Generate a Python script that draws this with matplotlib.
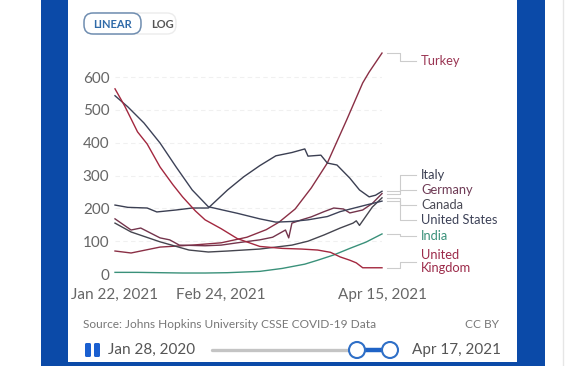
import numpy as np
import pandas as pd
import matplotlib
matplotlib.use("Agg")
import matplotlib.pyplot as plt
from matplotlib.patches import Rectangle, FancyBboxPatch, Circle

plt.rcParams['font.family'] = ['Lato', 'DejaVu Sans']

# days since 2021-01-22, values = daily new cases per million
start = pd.Timestamp("2021-01-22")

uk_days = [0, 3, 7, 10, 14, 18, 21, 25, 28, 33, 38, 45, 52, 58, 63, 67, 70, 73, 75, 77, 83]
uk_vals = [564, 512, 433, 396, 326, 272, 235, 192, 165, 138, 108, 84, 78, 76, 73, 66, 52, 42, 34, 19, 19]

us_days = [0, 4, 9, 14, 19, 24, 29, 33, 38, 45, 50, 55, 60, 66, 70, 74, 78, 83]
us_vals = [543, 509, 460, 399, 326, 256, 205, 196, 185, 168, 158, 160, 165, 175, 190, 200, 210, 222]

italy_days = [0, 4, 10, 13, 19, 24, 29, 35, 40, 45, 50, 55, 59, 60, 64, 66, 69, 73, 76, 79, 81, 83]
italy_vals = [210, 203, 201, 189, 195, 201, 201, 256, 296, 330, 360, 370, 381, 359, 362, 338, 332, 292, 256, 235, 240, 252]

germany_days = [0, 5, 8, 14, 17, 20, 28, 33, 38, 45, 49, 53, 54, 55, 58, 61, 65, 68, 71, 73, 77, 80, 83]
germany_vals = [168, 134, 140, 110, 104, 88, 86, 88, 95, 104, 112, 134, 110, 155, 165, 174, 190, 201, 198, 186, 195, 215, 245]

canada_days = [0, 5, 14, 23, 29, 35, 45, 55, 60, 65, 70, 74, 75, 76, 80, 83]
canada_vals = [155, 128, 98, 73, 67, 70, 76, 88, 100, 119, 140, 155, 162, 148, 204, 232]

turkey_days = [0, 5, 14, 24, 33, 41, 47, 51, 56, 61, 66, 72, 77, 79, 83]
turkey_vals = [70, 64, 82, 88, 95, 112, 135, 158, 198, 262, 338, 469, 582, 615, 673]

india_days = [0, 7, 14, 21, 28, 35, 45, 52, 59, 63, 68, 73, 78, 83]
india_vals = [5, 5, 4, 3, 3, 4, 8, 17, 30, 42, 58, 78, 97, 122]

countries = ["Turkey", "Italy", "Germany", "Canada", "United States", "India", "United\nKingdom"]
series_days = [turkey_days, italy_days, germany_days, canada_days, us_days, india_days, uk_days]
series_vals = [turkey_vals, italy_vals, germany_vals, canada_vals, us_vals, india_vals, uk_vals]
line_colors = ["#8a2f45", "#3b3f52", "#74344c", "#45454f", "#3d4258", "#3a917a", "#a3283f"]
label_colors = ["#9a3553", "#3b3f52", "#6e3a55", "#4a4a55", "#3d4258", "#3a917a", "#9c2b4a"]
# vertical position of each end label (value units)
label_y = [649, 302, 256, 210, 164, 116, 38]

fig = plt.figure(figsize=(5.79, 3.66), dpi=100)
fig.patch.set_facecolor("white")

# page decorations in pixel coordinates
deco = fig.add_axes([0, 0, 1, 1], zorder=0)
deco.set_xlim(0, 579)
deco.set_ylim(366, 0)
deco.axis("off")

blue = "#0b4aa8"
deco.add_patch(Rectangle((41, 0), 27, 366, color=blue, lw=0))
deco.add_patch(Rectangle((517, 0), 28, 366, color=blue, lw=0))
deco.add_patch(Rectangle((41, 362), 504, 4, color=blue, lw=0))
deco.plot([563, 563], [0, 366], color="#e6e6e6", lw=1)

# LINEAR / LOG toggle
deco.add_patch(FancyBboxPatch((90, 13), 86, 21, boxstyle="round,pad=0,rounding_size=9",
                              fc="white", ec="#ececec", lw=1))
deco.add_patch(FancyBboxPatch((84, 13), 57, 21, boxstyle="round,pad=0,rounding_size=9",
                              fc="white", ec="#6f8db0", lw=1.1))
deco.text(112.5, 24, "LINEAR", color="#2f6aa8", fontsize=8, fontweight="bold", ha="center", va="center")
deco.text(162, 24, "LOG", color="#555555", fontsize=8, fontweight="bold", ha="center", va="center")

# footer
deco.text(83, 324, "Source: Johns Hopkins University CSSE COVID-19 Data", color="#777777",
          fontsize=8.6, ha="left", va="center")
deco.text(499, 324, "CC BY", color="#777777", fontsize=8.6, ha="right", va="center")

# timeline slider
deco.add_patch(FancyBboxPatch((85, 343), 6, 14, boxstyle="round,pad=0,rounding_size=1.5", fc="#1a5fd0", ec="none"))
deco.add_patch(FancyBboxPatch((94, 343), 6, 14, boxstyle="round,pad=0,rounding_size=1.5", fc="#1a5fd0", ec="none"))
deco.text(108, 350, "Jan 28, 2020", color="#555555", fontsize=11, ha="left", va="center")
deco.plot([212, 357], [350, 350], color="#c4c4c4", lw=2.4, solid_capstyle="round")
deco.plot([357, 390], [350, 350], color="#1f63c6", lw=3.2)
for cx in (357, 390):
    deco.add_patch(Circle((cx, 350), 8, fc="white", ec="#2e6fc7", lw=1.5, zorder=5))
deco.text(412, 350, "Apr 17, 2021", color="#555555", fontsize=11, ha="left", va="center")

# main chart
ax = fig.add_axes([115 / 579, 92 / 366, 267 / 579, 680 * 0.3283 / 366], zorder=2)
ax.set_facecolor("none")
x1 = start + pd.Timedelta(days=83)
ax.set_xlim(start, x1)
ax.set_ylim(0, 680)

for name, d, v, c in zip(countries, series_days, series_vals, line_colors):
    dates = start + pd.to_timedelta(d, unit="D")
    ax.plot(dates, v, color=c, lw=1.0, clip_on=False, zorder=3)

ax.set_yticks([0, 100, 200, 300, 400, 500, 600])
for yv in [100, 200, 300, 400, 500, 600]:
    ax.axhline(yv, color="#f0f0f0", lw=0.8, ls=(0, (4, 3)), zorder=1)
ax.axhline(0, color="#f0f0f0", lw=0.8, zorder=1)

ticks = [start, pd.Timestamp("2021-02-24"), pd.Timestamp("2021-04-15")]
ax.set_xticks(ticks)
ax.set_xticklabels([t.strftime("%b %-d, %Y") for t in ticks])
ax.tick_params(axis="both", length=0, labelsize=11, labelcolor="#666666")
ax.tick_params(axis="y", pad=4)
ax.tick_params(axis="x", pad=10)
for s in ax.spines.values():
    s.set_visible(False)

# end labels with elbow connectors
x_a = x1 + pd.Timedelta(days=1.5)
x_b = x1 + pd.Timedelta(days=5.5)
x_c = x1 + pd.Timedelta(days=10.5)
x_t = x1 + pd.Timedelta(days=12.2)
for name, v, ly, lc in zip(countries, series_vals, label_y, label_colors):
    yend = v[-1]
    ax.plot([x_a, x_b, x_b, x_c], [yend, yend, ly, ly], color="#cccccc", lw=0.8, clip_on=False)
    ax.text(x_t, ly, name, color=lc, fontsize=9.3, ha="left", va="center", linespacing=1.1, clip_on=False)

fig.savefig("out.png", dpi=100)
